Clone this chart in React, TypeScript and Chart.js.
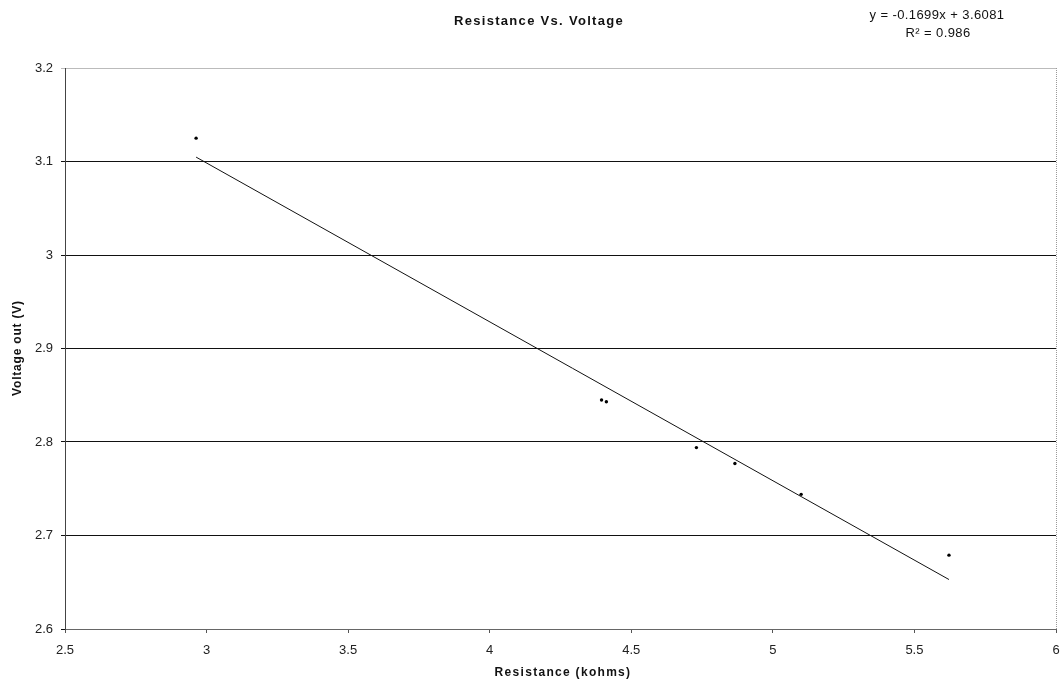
import React, { useEffect, useRef } from "react";
import { Chart, registerables } from "chart.js";

Chart.register(...registerables);

const resistance = [2.963, 4.395, 4.412, 4.73, 4.866, 5.1, 5.622];
const voltage = [3.125, 2.845, 2.843, 2.794, 2.777, 2.744, 2.679];
const trendSlope = -0.1699;
const trendIntercept = 3.6081;
const rSquared = "0.986";
const titleText = "Resistance Vs. Voltage";
const xTitle = "Resistance (kohms)";
const yTitle = "Voltage out (V)";
const xRange = [2.5, 6];
const yRange = [2.6, 3.2];

const FONT = "'Liberation Sans', Arial, sans-serif";

const textPlugin = {
  id: "customText",
  afterDraw(chart: any) {
    const { ctx, chartArea } = chart;
    ctx.save();
    // right dashed border
    ctx.strokeStyle = "#999";
    ctx.lineWidth = 1;
    ctx.setLineDash([1, 1]);
    ctx.beginPath();
    ctx.moveTo(chartArea.right + 0.5, chartArea.top);
    ctx.lineTo(chartArea.right + 0.5, chartArea.bottom);
    ctx.stroke();
    ctx.setLineDash([]);

    ctx.fillStyle = "#111";
    ctx.textAlign = "center";
    ctx.textBaseline = "middle";
    // title
    (ctx as any).letterSpacing = "1.3px";
    ctx.font = `bold 13px ${FONT}`;
    ctx.fillText(titleText, 539, 21);
    // x title
    (ctx as any).letterSpacing = "1.3px";
    ctx.font = `bold 12px ${FONT}`;
    ctx.fillText(xTitle, 563, 673);
    // y title
    ctx.save();
    ctx.translate(18, 348);
    ctx.rotate(-Math.PI / 2);
    (ctx as any).letterSpacing = "0.8px";
    ctx.fillText(yTitle, 0, 0);
    ctx.restore();
    // equation
    (ctx as any).letterSpacing = "0.4px";
    ctx.font = `13px ${FONT}`;
    ctx.fillText(`y = ${trendSlope}x + ${trendIntercept}`, 937, 15);
    ctx.fillText(`R\u00B2 = ${rSquared}`, 938, 33);
    (ctx as any).letterSpacing = "0px";
    ctx.restore();
  },
};

export default function App() {
  const ref = useRef<HTMLCanvasElement>(null);
  useEffect(() => {
    if (!ref.current) return;
    const points = resistance.map((x, i) => ({ x, y: voltage[i] }));
    const xMin = Math.min(...resistance);
    const xMax = Math.max(...resistance);
    const trend = [
      { x: xMin, y: trendIntercept + trendSlope * xMin },
      { x: xMax, y: trendIntercept + trendSlope * xMax },
    ];
    const chart = new Chart(ref.current, {
      type: "scatter",
      data: {
        datasets: [
          {
            data: trend,
            showLine: true,
            borderColor: "#111",
            borderWidth: 1,
            pointRadius: 0,
            fill: false,
          },
          {
            data: points,
            pointRadius: 1.7,
            pointBackgroundColor: "#000",
            pointBorderWidth: 0,
            showLine: false,
          },
        ],
      },
      options: {
        animation: false,
        responsive: false,
        maintainAspectRatio: false,
        layout: { padding: { top: 68, right: 7, left: 0, bottom: 0 } },
        plugins: {
          legend: { display: false },
          tooltip: { enabled: false },
          title: { display: false },
        },
        scales: {
          x: {
            type: "linear",
            min: xRange[0],
            max: xRange[1],
            afterFit: (s: any) => {
              s.height = 55;
              s.paddingLeft = 0;
              s.paddingRight = 0;
            },
            ticks: {
              stepSize: 0.5,
              padding: 10,
              color: "#222",
              font: { size: 13, family: FONT },
              maxRotation: 0,
              callback: (v: any) => String(Number(Number(v).toFixed(1))),
            },
            grid: {
              drawOnChartArea: false,
              drawTicks: true,
              tickLength: 4,
              color: "#555",
            },
            border: { color: "#666", width: 1 },
          },
          y: {
            type: "linear",
            min: yRange[0],
            max: yRange[1],
            afterFit: (s: any) => {
              s.width = 65;
              s.paddingTop = 0;
              s.paddingBottom = 0;
            },
            ticks: {
              stepSize: 0.1,
              padding: 8,
              color: "#222",
              font: { size: 13, family: FONT },
              callback: (v: any) => String(Number(Number(v).toFixed(1))),
            },
            grid: {
              drawTicks: true,
              tickLength: 4,
              color: (c: any) =>
                c.tick && Math.abs(c.tick.value - 3.2) < 1e-6 ? "#bbb" : "#111",
              lineWidth: 1,
            },
            border: { color: "#444", width: 1 },
          },
        },
      },
      plugins: [textPlugin],
    });
    return () => chart.destroy();
  }, []);
  return (
    <div style={{ position: "fixed", left: 0, top: 0, width: 1063, height: 684, background: "#fff" }}>
      <canvas ref={ref} width={1063} height={684} style={{ width: 1063, height: 684, display: "block" }} />
    </div>
  );
}
